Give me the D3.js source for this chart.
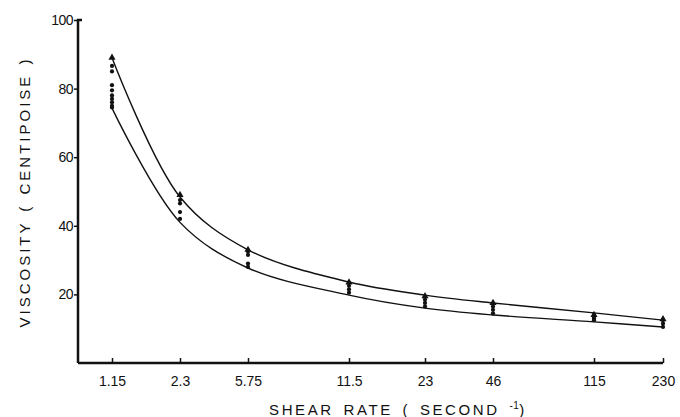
<!DOCTYPE html>
<html>
<head>
<meta charset="utf-8">
<script src="https://cdn.jsdelivr.net/npm/d3@7"></script>
<style>
  body { margin: 0; background: #fff; }
  text { font-family: "Liberation Sans", Arial, sans-serif; fill: #111; }
</style>
</head>
<body>
<div id="chart"></div>
<script>
// shear rate categories (second^-1) and the two fitted curves (centipoise)
const shearRates = [1.15, 2.3, 5.75, 11.5, 23, 46, 115, 230];
const rateLabels = ["1.15", "2.3", "5.75", "11.5", "23", "46", "115", "230"];
const upperCurve = [89, 48.4, 33, 23.6, 19.8, 17.5, 14.6, 12.5];
const lowerCurve = [74.3, 41, 27.7, 19.8, 16, 14, 12, 10.5];
const yTicks = [20, 40, 60, 80, 100];

// measured points, one list per shear rate
const dotValues = [
  [86.6, 85, 81, 79.5, 78, 77, 76, 75, 74.5],
  [47.5, 46.5, 44, 42],
  [32.5, 31.5, 29, 28],
  [22.5, 21.5, 20.5],
  [18.5, 17.5, 16.5],
  [16.5, 15.5, 14.5],
  [14, 13.5, 13, 12.5],
  [12.5, 11.5, 10.5]
];
const triangleValues = [89, 49, 33, 23.5, 19.5, 17.5, 14, 12.8];

const w = 680;
const h = 417;
// hand-drawn tick positions along the x axis
const tickX = [112, 180, 248, 349, 425, 493, 594, 663];
const axisLeft = 78;

const svg = d3.select("#chart").append("svg")
  .attr("width", w)
  .attr("height", h);

const xScale = d3.scaleLinear().domain(shearRates).range(tickX);
const yScale = d3.scaleLinear().domain([0, 100]).range([363, 20]);

// curves
const line = d3.line()
  .x((d, i) => xScale(shearRates[i]))
  .y((d) => yScale(d))
  .curve(d3.curveCatmullRom.alpha(0.5));

[upperCurve, lowerCurve].forEach((c) => {
  svg.append("path")
    .datum(c)
    .attr("d", line)
    .attr("fill", "none")
    .attr("stroke", "#111")
    .attr("stroke-width", 1.4);
});

// points
const dots = [];
dotValues.forEach((vals, i) => vals.forEach((v) => dots.push({ x: shearRates[i], y: v })));

svg.selectAll("path.dot")
  .data(dots)
  .enter()
  .append("path")
  .attr("class", "dot")
  .attr("d", d3.symbol(d3.symbolCircle, 14))
  .attr("transform", (d) => `translate(${xScale(d.x)},${yScale(d.y)})`)
  .attr("fill", "#111");

svg.selectAll("path.tri")
  .data(triangleValues)
  .enter()
  .append("path")
  .attr("class", "tri")
  .attr("d", d3.symbol(d3.symbolTriangle, 22))
  .attr("transform", (d, i) => `translate(${xScale(shearRates[i])},${yScale(d)})`)
  .attr("fill", "#111");

// x axis
const xAxis = d3.axisBottom(xScale)
  .tickValues(shearRates)
  .tickSize(-5)
  .tickPadding(13)
  .tickFormat((d, i) => rateLabels[i]);

const gx = svg.append("g")
  .attr("transform", `translate(0,${yScale(0)})`)
  .call(xAxis);
gx.select(".domain")
  .attr("d", `M${axisLeft},0H${xScale(230)}`)
  .attr("stroke", "#111")
  .attr("stroke-width", 2.5);
gx.selectAll(".tick line").attr("stroke", "#111").attr("stroke-width", 1.5);
gx.selectAll(".tick text")
  .attr("font-size", 14)
  .attr("font-family", "Liberation Sans, Arial, sans-serif")
  .attr("fill", "#111");

// y axis
const yAxis = d3.axisLeft(yScale)
  .tickValues(yTicks)
  .tickSize(4)
  .tickPadding(1)
  .tickFormat(d3.format("d"));

const gy = svg.append("g")
  .attr("transform", `translate(${axisLeft},0)`)
  .call(yAxis);
gy.select(".domain")
  .attr("d", `M0,${yScale(0)}V${yScale(100)}h4`)
  .attr("fill", "none")
  .attr("stroke", "#111")
  .attr("stroke-width", 2.5);
gy.selectAll(".tick line").attr("stroke", "#111").attr("stroke-width", 1.5);
gy.selectAll(".tick text")
  .attr("font-size", 14)
  .attr("font-family", "Liberation Sans, Arial, sans-serif")
  .attr("letter-spacing", -0.5)
  .attr("fill", "#111");

// axis titles
const xTitle = svg.append("text")
  .attr("x", 398)
  .attr("y", 415)
  .attr("text-anchor", "middle")
  .attr("font-size", 15)
  .attr("letter-spacing", 2.6)
  .attr("word-spacing", 3);
xTitle.append("tspan").text("SHEAR RATE ( SECOND ");
xTitle.append("tspan").attr("dy", -6).attr("font-size", 10).attr("letter-spacing", 0.5).text("-1");
xTitle.append("tspan").attr("dy", 6).text(")");

svg.append("text")
  .attr("transform", "translate(30,192) rotate(-90)")
  .attr("text-anchor", "middle")
  .attr("font-size", 15)
  .attr("letter-spacing", 3)
  .attr("word-spacing", 2)
  .text("VISCOSITY ( CENTIPOISE )");
</script>
</body>
</html>
